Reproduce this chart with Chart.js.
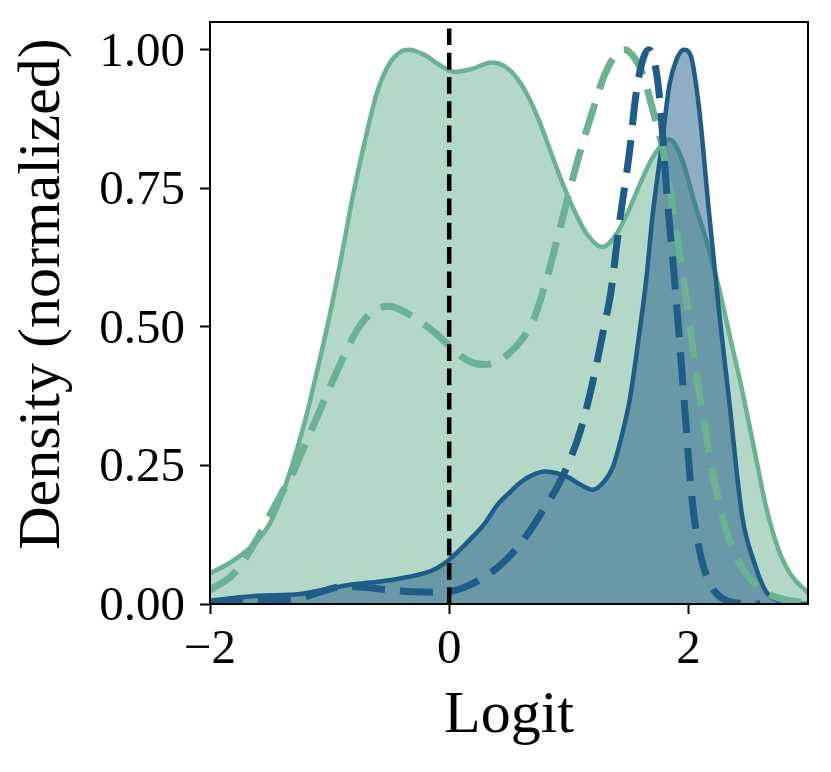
<!DOCTYPE html>
<html>
<head>
<meta charset="utf-8">
<script src="https://cdn.jsdelivr.net/npm/chart.js@4.4.1/dist/chart.umd.min.js"></script>
<style>
  html, body { margin: 0; padding: 0; background: #fff; }
</style>
</head>
<body>
<canvas id="chart" width="831" height="772"></canvas>
<script>
// tick positions and labels
var xTicks = [-2, 0, 2];
var yTicks = [0, 0.25, 0.5, 0.75, 1.0];
var xLabel = "Logit";
var yLabel = "Density (normalized)";

// green, solid (filled)
var greenSolidX = [-2.0, -1.8, -1.6, -1.5, -1.4, -1.3, -1.2, -1.1, -1.0, -0.9, -0.8, -0.7, -0.6, -0.5, -0.4, -0.34, -0.2, -0.1, 0.05, 0.2, 0.35, 0.45, 0.55, 0.65, 0.75, 0.85, 0.95, 1.05, 1.15, 1.28, 1.4, 1.5, 1.6, 1.7, 1.84, 1.95, 2.05, 2.15, 2.25, 2.35, 2.45, 2.55, 2.65, 2.75, 2.85, 3.0];
var greenSolidY = [0.055, 0.079, 0.115, 0.145, 0.195, 0.26, 0.335, 0.425, 0.52, 0.628, 0.742, 0.84, 0.925, 0.975, 0.997, 1.0, 0.99, 0.975, 0.96, 0.966, 0.977, 0.972, 0.953, 0.92, 0.873, 0.815, 0.758, 0.708, 0.668, 0.644, 0.668, 0.71, 0.76, 0.805, 0.838, 0.80, 0.725, 0.655, 0.575, 0.48, 0.385, 0.28, 0.175, 0.10, 0.055, 0.02];

// green, dashed
var greenDashX = [-2.0, -1.8, -1.6, -1.5, -1.4, -1.3, -1.2, -1.1, -1.0, -0.9, -0.8, -0.7, -0.6, -0.5, -0.4, -0.3, -0.2, -0.1, 0.0, 0.1, 0.2, 0.3, 0.4, 0.5, 0.6, 0.7, 0.8, 0.9, 1.0, 1.1, 1.2, 1.3, 1.4, 1.47, 1.55, 1.62, 1.7, 1.78, 1.87, 1.98, 2.05, 2.145, 2.2, 2.3, 2.4, 2.5, 2.6, 2.7, 2.85, 3.0];
var greenDashY = [0.025, 0.055, 0.12, 0.16, 0.2, 0.24, 0.29, 0.34, 0.39, 0.438, 0.483, 0.515, 0.533, 0.537, 0.53, 0.518, 0.503, 0.486, 0.466, 0.447, 0.435, 0.432, 0.437, 0.452, 0.475, 0.51, 0.575, 0.655, 0.74, 0.82, 0.89, 0.955, 0.993, 1.0, 0.985, 0.955, 0.893, 0.826, 0.712, 0.555, 0.44, 0.308, 0.24, 0.145, 0.085, 0.05, 0.028, 0.015, 0.006, 0.002];

// blue, solid (filled)
var blueSolidX = [-2.0, -1.8, -1.6, -1.25, -1.0, -0.85, -0.5, -0.2, -0.1, 0.0, 0.1, 0.2, 0.3, 0.4, 0.5, 0.6, 0.7, 0.8, 0.9, 1.0, 1.1, 1.2, 1.3, 1.37, 1.45, 1.51, 1.59, 1.65, 1.7, 1.78, 1.84, 1.9, 1.96, 2.02, 2.09, 2.17, 2.26, 2.34, 2.45, 2.55, 2.65, 2.75, 2.9, 3.0];
var blueSolidY = [0.006, 0.011, 0.015, 0.018, 0.028, 0.034, 0.043, 0.056, 0.065, 0.08, 0.1, 0.122, 0.146, 0.178, 0.2, 0.22, 0.233, 0.239, 0.236, 0.228, 0.215, 0.206, 0.222, 0.248, 0.31, 0.369, 0.489, 0.59, 0.70, 0.832, 0.935, 0.982, 1.0, 0.989, 0.893, 0.712, 0.52, 0.369, 0.158, 0.075, 0.022, 0.006, 0.001, 0.0];

// blue, dashed
var blueDashX = [-2.0, -1.6, -1.3, -1.1, -0.9, -0.7, -0.5, -0.3, -0.1, 0.0, 0.1, 0.2, 0.3, 0.4, 0.5, 0.6, 0.7, 0.8, 0.9, 1.0, 1.1, 1.2, 1.3, 1.35, 1.42, 1.51, 1.56, 1.62, 1.67, 1.72, 1.76, 1.79, 1.82, 1.87, 1.92, 1.96, 2.03, 2.1, 2.2, 2.3, 2.45, 2.6];
var blueDashY = [0.002, 0.006, 0.008, 0.02, 0.031, 0.03, 0.025, 0.022, 0.021, 0.022, 0.028, 0.037, 0.05, 0.065, 0.085, 0.11, 0.14, 0.175, 0.21, 0.255, 0.315, 0.4, 0.505, 0.56, 0.682, 0.82, 0.917, 0.983, 1.0, 0.975, 0.911, 0.83, 0.74, 0.62, 0.49, 0.38, 0.19, 0.09, 0.03, 0.008, 0.001, 0.0];

// vertical reference line at logit 0
var refX = [0, 0];
var refY = [0, 1.05];

var green = "#6ab292";
var blue = "#205c88";
var serif = "'Liberation Serif', 'Times New Roman', serif";

function pts(xs, ys) {
    return xs.map(function(x, i) { return { x: x, y: ys[i] }; });
}

// box around the axes
var frame = {
    id: "frame",
    afterDatasetsDraw: function(chart) {
        var a = chart.chartArea;
        var ctx = chart.ctx;
        ctx.save();
        ctx.strokeStyle = "#000";
        ctx.lineWidth = 2;
        ctx.strokeRect(a.left, a.top, a.right - a.left, a.bottom - a.top);
        ctx.restore();
    }
};

// y axis title, placed by hand
var yTitle = {
    id: "yTitle",
    afterDraw: function(chart) {
        var ctx = chart.ctx;
        ctx.save();
        ctx.translate(43, 294);
        ctx.rotate(-Math.PI / 2);
        ctx.font = "60px " + serif;
        ctx.fillStyle = "#000";
        ctx.textAlign = "center";
        ctx.textBaseline = "middle";
        ctx.fillText(yLabel, 0, 0);
        ctx.restore();
    }
};

var ctx = document.getElementById("chart").getContext("2d");
var myChart = new Chart(ctx, {
    type: "line",
    data: {
        datasets: [{
            label: "ref",
            data: pts(refX, refY),
            borderColor: "#000",
            borderWidth: 4.5,
            borderDash: [16.7, 7.6],
            pointRadius: 0,
            fill: false,
            order: 0,
        }, {
            label: "blue dashed",
            data: pts(blueDashX, blueDashY),
            borderColor: blue,
            borderWidth: 7,
            borderDash: [33, 15],
            pointRadius: 0,
            fill: false,
            cubicInterpolationMode: "monotone",
            order: 1,
        }, {
            label: "green dashed",
            data: pts(greenDashX, greenDashY),
            borderColor: green,
            borderWidth: 7,
            borderDash: [33, 15],
            pointRadius: 0,
            fill: false,
            cubicInterpolationMode: "monotone",
            order: 2,
        }, {
            label: "blue",
            data: pts(blueSolidX, blueSolidY),
            borderColor: blue,
            backgroundColor: "rgba(32, 92, 136, 0.5)",
            borderWidth: 4.5,
            pointRadius: 0,
            fill: "origin",
            cubicInterpolationMode: "monotone",
            order: 3,
        }, {
            label: "green",
            data: pts(greenSolidX, greenSolidY),
            borderColor: green,
            backgroundColor: "rgba(106, 178, 146, 0.5)",
            borderWidth: 4.5,
            pointRadius: 0,
            fill: "origin",
            cubicInterpolationMode: "monotone",
            order: 4,
        }, ],
    },
    options: {
        responsive: false,
        devicePixelRatio: 1,
        animation: false,
        layout: {
            padding: { top: 22, right: 23, bottom: 0, left: 0 },
        },
        plugins: {
            legend: { display: false },
            tooltip: { enabled: false },
        },
        scales: {
            x: {
                type: "linear",
                min: -2,
                max: 3,
                afterBuildTicks: function(scale) {
                    scale.ticks = xTicks.map(function(v) { return { value: v }; });
                },
                afterFit: function(scale) {
                    scale.height = 168;
                    scale.paddingLeft = 0;
                    scale.paddingRight = 0;
                },
                ticks: {
                    autoSkip: false,
                    maxRotation: 0,
                    color: "#000",
                    padding: 7,
                    font: { family: serif, size: 49 },
                    callback: function(v) { return v < 0 ? "\u2212" + Math.abs(v) : String(v); },
                },
                grid: {
                    drawOnChartArea: false,
                    drawTicks: true,
                    tickLength: 10,
                    tickWidth: 2,
                    tickColor: "#000",
                },
                border: { display: true, color: "#000", width: 2 },
                title: {
                    display: true,
                    text: xLabel,
                    color: "#000",
                    font: { family: serif, size: 60 },
                    padding: { top: 0, bottom: 20 },
                },
            },
            y: {
                type: "linear",
                min: 0,
                max: 1.05,
                afterBuildTicks: function(scale) {
                    scale.ticks = yTicks.map(function(v) { return { value: v }; });
                },
                afterFit: function(scale) {
                    scale.width = 210;
                    scale.paddingTop = 0;
                    scale.paddingBottom = 0;
                },
                ticks: {
                    color: "#000",
                    padding: 15,
                    labelOffset: 3,
                    font: { family: serif, size: 49 },
                    callback: function(v) { return Number(v).toFixed(2); },
                },
                grid: {
                    drawOnChartArea: false,
                    drawTicks: true,
                    tickLength: 10,
                    tickWidth: 2,
                    tickColor: "#000",
                },
                border: { display: true, color: "#000", width: 2 },
            },
        },
    },
    plugins: [frame, yTitle],
});
</script>
</body>
</html>
